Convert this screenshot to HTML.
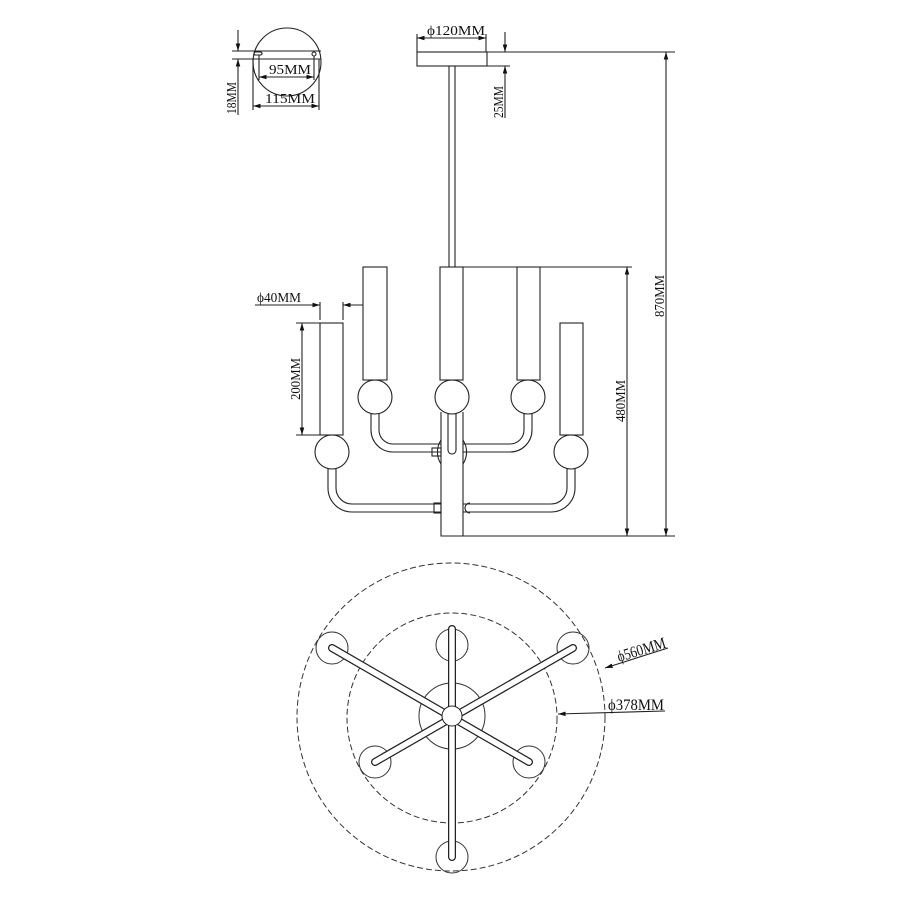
<!DOCTYPE html>
<html><head><meta charset="utf-8"><style>
html,body{margin:0;padding:0;background:#fff}
svg{display:block}
text{font-family:"Liberation Serif",serif;fill:#111}
</style></head><body>
<svg width="900" height="900" viewBox="0 0 900 900" xmlns="http://www.w3.org/2000/svg">
<defs>
<marker id="a" viewBox="0 0 10 10" refX="10" refY="5" markerWidth="7" markerHeight="7" orient="auto-start-reverse"><path d="M0,2 L10,5 L0,8 z" fill="#111"/></marker>
</defs>
<g fill="none" stroke="#222" stroke-width="1.1">
<circle cx="287" cy="62" r="34"/>
<line x1="253" y1="51" x2="321" y2="51"/>
<line x1="253" y1="59" x2="321" y2="59"/>
<line x1="232" y1="51" x2="253" y2="51"/>
<line x1="232" y1="59" x2="253" y2="59"/>
<line x1="238" y1="30" x2="238" y2="51" marker-end="url(#a)"/>
<line x1="238" y1="115" x2="238" y2="59" marker-end="url(#a)"/>
<rect x="254" y="52" width="8" height="3" rx="1.5"/>
<circle cx="314" cy="54" r="2"/>
<line x1="259" y1="55" x2="259" y2="80"/>
<line x1="314" y1="56" x2="314" y2="80"/>
<line x1="259" y1="77" x2="314" y2="77" marker-start="url(#a)" marker-end="url(#a)"/>
<line x1="253" y1="59" x2="253" y2="110"/>
<line x1="319" y1="59" x2="319" y2="110"/>
<line x1="253" y1="106" x2="319" y2="106" marker-start="url(#a)" marker-end="url(#a)"/>

<rect x="417" y="52" width="70" height="14"/>
<line x1="417" y1="52" x2="417" y2="34"/>
<line x1="486" y1="52" x2="486" y2="34"/>
<line x1="417" y1="38" x2="486" y2="38" marker-start="url(#a)" marker-end="url(#a)"/>
<line x1="487" y1="52" x2="675" y2="52"/>
<line x1="487" y1="66" x2="510" y2="66"/>
<line x1="505" y1="32" x2="505" y2="52" marker-end="url(#a)"/>
<line x1="505" y1="118" x2="505" y2="66" marker-end="url(#a)"/>
<line x1="449" y1="66" x2="449" y2="267"/>
<line x1="455" y1="66" x2="455" y2="267"/>

<rect x="440" y="267" width="23" height="113"/>
<rect x="363" y="267" width="24" height="113"/>
<rect x="517" y="267" width="23" height="113"/>
<rect x="320" y="323" width="23" height="112"/>
<rect x="560" y="323" width="23" height="112"/>
<circle cx="375" cy="397" r="17"/>
<circle cx="452" cy="397" r="17"/>
<circle cx="528" cy="397" r="17"/>
<circle cx="332" cy="452" r="17"/>
<circle cx="571" cy="452" r="17"/>
<path d="M441,440 A22,22 0 0,0 441,464"/>
<path d="M463,440 A22,22 0 0,1 463,464"/>
<path d="M441,412 L441,536 L463,536 L463,412"/>
<path d="M448,414 L448,450 A4,4 0 0,0 456,450 L456,414"/>
<path d="M371,414 L371,430 A22,22 0 0,0 393,452 L441,452"/>
<path d="M379,414 L379,430 A14,14 0 0,0 393,444 L441,444"/>
<path d="M532,414 L532,430 A22,22 0 0,1 510,452 L463,452"/>
<path d="M524,414 L524,430 A14,14 0 0,1 510,444 L463,444"/>
<path d="M328,469 L328,488 A24,24 0 0,0 352,512 L441,512"/>
<path d="M336,469 L336,488 A16,16 0 0,0 352,504 L441,504"/>
<path d="M575,469 L575,488 A24,24 0 0,1 551,512 L463,512"/>
<path d="M567,469 L567,488 A16,16 0 0,1 551,504 L463,504"/>
<rect x="434" y="503" width="7" height="10"/>
<path d="M470,503 A5,5 0 0,0 470,513"/>
<rect x="432" y="448" width="9" height="8"/>

<line x1="463" y1="267" x2="632" y2="267"/>
<line x1="463" y1="536" x2="675" y2="536"/>
<line x1="627" y1="267" x2="627" y2="536" marker-start="url(#a)" marker-end="url(#a)"/>
<line x1="666" y1="52" x2="666" y2="536" marker-start="url(#a)" marker-end="url(#a)"/>
<line x1="296" y1="323" x2="320" y2="323"/>
<line x1="296" y1="435" x2="320" y2="435"/>
<line x1="302" y1="323" x2="302" y2="435" marker-start="url(#a)" marker-end="url(#a)"/>
<line x1="320" y1="302" x2="320" y2="320"/>
<line x1="343" y1="302" x2="343" y2="320"/>
<line x1="255" y1="305" x2="320" y2="305" marker-end="url(#a)"/>
<line x1="363" y1="305" x2="343" y2="305" marker-end="url(#a)"/>
</g>

<g fill="none" stroke="#333" stroke-width="1">
<circle cx="451" cy="717" r="154" stroke-dasharray="6,3"/>
<circle cx="452" cy="718" r="105" stroke-dasharray="6,3"/>
<circle cx="452" cy="716" r="33"/>
<circle cx="452" cy="645" r="16"/>
<circle cx="452" cy="857" r="16"/>
<circle cx="332" cy="648" r="16"/>
<circle cx="573" cy="648" r="16"/>
<circle cx="375" cy="762" r="16"/>
<circle cx="529" cy="762" r="16"/>
</g>
<g stroke-linecap="round">
<g stroke="#222" stroke-width="8"><line x1="452" y1="629" x2="452" y2="857"/><line x1="332" y1="648" x2="529" y2="762"/><line x1="573" y1="648" x2="375" y2="762"/></g>
<g stroke="#fff" stroke-width="5.5"><line x1="452" y1="629" x2="452" y2="857"/><line x1="332" y1="648" x2="529" y2="762"/><line x1="573" y1="648" x2="375" y2="762"/></g>
</g>
<circle cx="452" cy="716" r="10" fill="#fff" stroke="#222"/>
<g stroke="#222" stroke-width="1.1" fill="none">
<line x1="668" y1="648" x2="605" y2="668" marker-end="url(#a)"/>
<line x1="665" y1="711" x2="558" y2="714" marker-end="url(#a)"/>
</g>

<g>
<text x="427" y="35" font-size="14" textLength="58" lengthAdjust="spacingAndGlyphs">ϕ120MM</text>
<text x="269" y="74" font-size="14" textLength="42" lengthAdjust="spacingAndGlyphs">95MM</text>
<text x="265" y="103" font-size="14" textLength="50" lengthAdjust="spacingAndGlyphs">115MM</text>
<text x="257" y="302" font-size="14" textLength="44" lengthAdjust="spacingAndGlyphs">ϕ40MM</text>
<text transform="translate(236,114) rotate(-90)" font-size="14" textLength="32" lengthAdjust="spacingAndGlyphs">18MM</text>
<text transform="translate(503,118) rotate(-90)" font-size="14" textLength="32" lengthAdjust="spacingAndGlyphs">25MM</text>
<text transform="translate(300,400) rotate(-90)" font-size="14" textLength="42" lengthAdjust="spacingAndGlyphs">200MM</text>
<text transform="translate(625,422) rotate(-90)" font-size="14" textLength="42" lengthAdjust="spacingAndGlyphs">480MM</text>
<text transform="translate(664,317) rotate(-90)" font-size="14" textLength="42" lengthAdjust="spacingAndGlyphs">870MM</text>
<text transform="translate(619,662) rotate(-17)" font-size="16" textLength="50" lengthAdjust="spacingAndGlyphs">ϕ560MM</text>
<text x="608" y="710" font-size="16" textLength="56" lengthAdjust="spacingAndGlyphs">ϕ378MM</text>
</g>
</svg>
</body></html>
